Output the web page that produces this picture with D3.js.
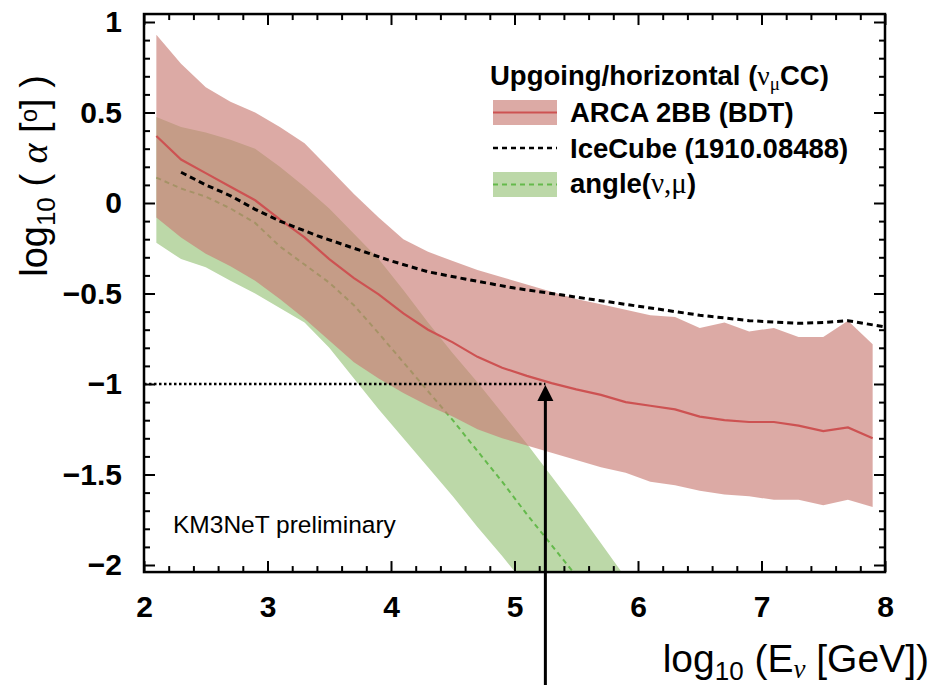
<!DOCTYPE html>
<html><head><meta charset="utf-8">
<script src="https://cdn.jsdelivr.net/npm/d3@7"></script>
<style>body{margin:0;background:#fff}svg{display:block}</style>
</head><body><svg id="c" width="931" height="685"></svg>
<script>
// ---- data (log10 E [GeV], log10 alpha [deg]) ----
const arcaE = [2.1,2.3,2.5,2.7,2.9,3.1,3.3,3.5,3.7,3.9,4.1,4.3,4.5,4.7,4.9,5.1,5.3,5.5,5.7,5.9,6.1,6.3,6.5,6.7,6.9,7.1,7.3,7.5,7.7,7.9];
const arcaUpper = [0.93,0.77,0.64,0.56,0.50,0.42,0.33,0.19,0.05,-0.08,-0.20,-0.27,-0.32,-0.37,-0.41,-0.45,-0.49,-0.53,-0.56,-0.59,-0.62,-0.63,-0.69,-0.66,-0.71,-0.69,-0.74,-0.74,-0.65,-0.78];
const arcaMedian = [0.37,0.24,0.165,0.09,0.015,-0.09,-0.19,-0.31,-0.415,-0.505,-0.61,-0.70,-0.77,-0.85,-0.91,-0.955,-0.995,-1.03,-1.06,-1.10,-1.12,-1.14,-1.18,-1.20,-1.21,-1.21,-1.23,-1.26,-1.24,-1.30];
const arcaLower = [-0.08,-0.19,-0.28,-0.35,-0.43,-0.53,-0.64,-0.76,-0.88,-0.97,-1.05,-1.12,-1.18,-1.25,-1.30,-1.34,-1.38,-1.42,-1.46,-1.49,-1.54,-1.56,-1.59,-1.61,-1.62,-1.64,-1.64,-1.67,-1.64,-1.68];

const angleUpperE = [2.1,2.3,2.5,2.7,2.9,3.1,3.3,3.5,3.7,3.9,4.1,4.3,4.5,4.7,4.9,5.1,5.3,5.5,5.7,5.9];
const angleUpper = [0.475,0.42,0.39,0.35,0.30,0.20,0.09,-0.03,-0.17,-0.31,-0.48,-0.66,-0.83,-0.99,-1.16,-1.33,-1.51,-1.69,-1.88,-2.07];
const angleLowerE = [2.1,2.3,2.5,2.7,2.9,3.1,3.3,3.5,3.7,3.9,4.1,4.3,4.5,4.7,4.9,5.1];
const angleLower = [-0.22,-0.31,-0.355,-0.43,-0.50,-0.58,-0.66,-0.80,-0.97,-1.14,-1.30,-1.46,-1.62,-1.79,-1.95,-2.12];
const angleMedianE = [2.1,2.3,2.5,2.7,2.9,3.1,3.3,3.5,3.7,3.9,4.1,4.3,4.5,4.7,4.9,5.1,5.3,5.5];
const angleMedian = [0.14,0.08,0.035,-0.03,-0.11,-0.24,-0.34,-0.44,-0.565,-0.72,-0.88,-1.04,-1.20,-1.37,-1.54,-1.72,-1.89,-2.06];

const iceE = [2.3,2.5,2.7,2.9,3.1,3.4,3.7,4.0,4.3,4.6,5.0,5.4,5.8,6.1,6.5,6.9,7.3,7.5,7.7,8.0];
const iceAlpha = [0.17,0.10,0.04,-0.035,-0.10,-0.18,-0.25,-0.32,-0.38,-0.42,-0.47,-0.51,-0.55,-0.58,-0.62,-0.65,-0.665,-0.66,-0.65,-0.685];

const markE = 5.25, markAlpha = -1;

const xTicks = [2,3,4,5,6,7,8];
const xTickLabels = ["2","3","4","5","6","7","8"];
const yTicks = [-2,-1.5,-1,-0.5,0,0.5,1];
const yTickLabels = ["\u22122","\u22121.5","\u22121","\u22120.5","0","0.5","1"];

const legendTitle = "Upgoing/horizontal";
const legendArca = "ARCA 2BB (BDT)";
const legendIce = "IceCube (1910.08488)";
const watermark = "KM3NeT preliminary";

// ---- layout ----
const svg = d3.select("#c");
const x = d3.scaleLinear([2, 8], [144, 885]);
const y = d3.scaleLinear([-2, 1], [565, 22]);
const pTop = y(1.044), pBot = y(-2.039), pLeft = x(2), pRight = x(8);

const defs = svg.append("defs");
defs.append("clipPath").attr("id","plot").append("rect")
  .attr("x", pLeft).attr("y", pTop).attr("width", pRight-pLeft).attr("height", pBot-pTop);

const redFill = "rgb(201,124,117)", redOp = 0.65;
const greenFill = "rgb(188,216,168)";
const greenLine = "rgb(100,185,75)";
const redLine = "rgb(205,82,82)";

const gPlot = svg.append("g").attr("clip-path","url(#plot)");

function bandPath(eU, vU, eL, vL) {
  const pts = eU.map((e,i)=>[x(e), y(vU[i])]);
  for (let i = eL.length-1; i >= 0; i--) pts.push([x(eL[i]), y(vL[i])]);
  return "M" + pts.map(p=>p.join(",")).join("L") + "Z";
}
const line = d3.line().x(d=>x(d[0])).y(d=>y(d[1]));

gPlot.append("path").attr("d", bandPath(angleUpperE, angleUpper, angleLowerE, angleLower))
  .attr("fill", greenFill);
gPlot.append("path").attr("d", line(angleMedianE.map((e,i)=>[e, angleMedian[i]])))
  .attr("fill","none").attr("stroke", greenLine).attr("stroke-width", 2).attr("stroke-dasharray","5,4");

gPlot.append("path").attr("d", bandPath(arcaE, arcaUpper, arcaE, arcaLower))
  .attr("fill", redFill).attr("fill-opacity", redOp);
gPlot.append("path").attr("d", line(arcaE.map((e,i)=>[e, arcaMedian[i]])))
  .attr("fill","none").attr("stroke", redLine).attr("stroke-width", 2.2);

gPlot.append("path").attr("d", line(iceE.map((e,i)=>[e, iceAlpha[i]])))
  .attr("fill","none").attr("stroke","#000").attr("stroke-width", 3).attr("stroke-dasharray","6,4");

svg.append("line").attr("x1", x(2)).attr("x2", x(markE)).attr("y1", y(markAlpha)).attr("y2", y(markAlpha))
  .attr("stroke","#000").attr("stroke-width",2.5).attr("stroke-dasharray","2.5,2.5");
const ax = x(markE), ay = y(markAlpha) + 1;
svg.append("line").attr("x1", ax).attr("x2", ax).attr("y1", 685).attr("y2", ay + 12)
  .attr("stroke","#000").attr("stroke-width",3);
svg.append("path").attr("d", `M${ax},${ay}L${ax-8},${ay+16}L${ax+8},${ay+16}Z`).attr("fill","#000");

const majLen = 11, minLen = 6;
const xMinor = x.ticks(30).filter(v=>!xTicks.includes(v));
const yMinor = y.ticks(30).filter(v=>!yTicks.some(t=>Math.abs(t-v)<1e-9));
function styleAxis(g){ g.select(".domain").remove(); g.selectAll("line").attr("stroke","#000").attr("stroke-width",2); }
const sans = "Liberation Sans, Arial, Helvetica, sans-serif";
const serif = "Liberation Serif, Times New Roman, serif";

svg.append("g").attr("transform",`translate(0,${pBot})`)
  .call(d3.axisBottom(x).tickValues(xTicks).tickSize(-majLen).tickPadding(24).tickFormat((d,i)=>xTickLabels[i]))
  .call(styleAxis)
  .call(g=>g.selectAll("text").attr("font-family",sans).attr("font-weight","bold").attr("font-size",30).attr("fill","#000"));
svg.append("g").attr("transform",`translate(0,${pBot})`)
  .call(d3.axisBottom(x).tickValues(xMinor).tickSize(-minLen).tickFormat("")).call(styleAxis);
svg.append("g").attr("transform",`translate(0,${pTop})`)
  .call(d3.axisTop(x).tickValues(xTicks).tickSize(-majLen).tickFormat("")).call(styleAxis);
svg.append("g").attr("transform",`translate(0,${pTop})`)
  .call(d3.axisTop(x).tickValues(xMinor).tickSize(-minLen).tickFormat("")).call(styleAxis);

svg.append("g").attr("transform",`translate(${pLeft},0)`)
  .call(d3.axisLeft(y).tickValues(yTicks).tickSize(-majLen).tickPadding(22).tickFormat((d,i)=>yTickLabels[i]))
  .call(styleAxis)
  .call(g=>g.selectAll("text").attr("font-family",sans).attr("font-weight","bold").attr("font-size",30).attr("fill","#000"));
svg.append("g").attr("transform",`translate(${pLeft},0)`)
  .call(d3.axisLeft(y).tickValues(yMinor).tickSize(-minLen).tickFormat("")).call(styleAxis);
svg.append("g").attr("transform",`translate(${pRight},0)`)
  .call(d3.axisRight(y).tickValues(yTicks).tickSize(-majLen).tickFormat("")).call(styleAxis);
svg.append("g").attr("transform",`translate(${pRight},0)`)
  .call(d3.axisRight(y).tickValues(yMinor).tickSize(-minLen).tickFormat("")).call(styleAxis);

svg.append("rect").attr("x",pLeft).attr("y",pTop).attr("width",pRight-pLeft).attr("height",pBot-pTop)
  .attr("fill","none").attr("stroke","#000").attr("stroke-width",2.5);

const yt = svg.append("text").attr("transform","translate(47,176) rotate(-90)")
  .attr("text-anchor","middle").attr("font-family",sans).attr("font-size",38).attr("fill","#000");
yt.append("tspan").text("log");
yt.append("tspan").attr("font-size",26).attr("dy",8).text("10");
yt.append("tspan").attr("dy",-8).text("\u00a0(\u00a0");
yt.append("tspan").attr("font-family",serif).attr("font-style","italic").text("\u03b1");
yt.append("tspan").text("\u00a0[");
yt.append("tspan").attr("font-size",24).attr("dy",-10).text("o");
yt.append("tspan").attr("dy",10).text("]\u00a0)");

const xt = svg.append("text").attr("x",929).attr("y",672).attr("text-anchor","end")
  .attr("font-family",sans).attr("font-size",39).attr("fill","#000");
xt.append("tspan").text("log");
xt.append("tspan").attr("font-size",26).attr("dy",8).text("10");
xt.append("tspan").attr("dy",-8).text("\u00a0(E");
xt.append("tspan").attr("font-size",27).attr("dy",6).attr("font-family",serif).attr("font-style","italic").text("\u03bd");
xt.append("tspan").attr("dy",-6).text("\u00a0[GeV])");

const lx = 493, lw = 64, lfs = 27.5;
const lt = svg.append("text").attr("x",490).attr("y",85).attr("font-family",sans).attr("font-weight","bold").attr("font-size",lfs).attr("fill","#000");
lt.append("tspan").text(legendTitle + " (");
lt.append("tspan").attr("font-family",serif).attr("font-weight","normal").text("\u03bd");
lt.append("tspan").attr("font-family",serif).attr("font-weight","normal").attr("font-size",19).attr("dy",5).text("\u03bc");
lt.append("tspan").attr("dy",-5).text("CC)");

svg.append("rect").attr("x",lx).attr("y",100).attr("width",lw).attr("height",25).attr("fill",redFill).attr("fill-opacity",redOp);
svg.append("line").attr("x1",lx).attr("x2",lx+lw).attr("y1",112.5).attr("y2",112.5).attr("stroke",redLine).attr("stroke-width",2.2);
svg.append("text").attr("x",570).attr("y",122).attr("font-family",sans).attr("font-weight","bold").attr("font-size",lfs).attr("fill","#000").text(legendArca);

svg.append("line").attr("x1",lx).attr("x2",lx+lw).attr("y1",148).attr("y2",148).attr("stroke","#000").attr("stroke-width",2.5).attr("stroke-dasharray","5,4");
svg.append("text").attr("x",570).attr("y",158).attr("font-family",sans).attr("font-weight","bold").attr("font-size",lfs).attr("fill","#000").text(legendIce);

svg.append("rect").attr("x",lx).attr("y",172).attr("width",lw).attr("height",25).attr("fill",greenFill);
svg.append("line").attr("x1",lx).attr("x2",lx+lw).attr("y1",184.5).attr("y2",184.5).attr("stroke",greenLine).attr("stroke-width",2.2).attr("stroke-dasharray","5,4");
const la = svg.append("text").attr("x",570).attr("y",193).attr("font-family",sans).attr("font-weight","bold").attr("font-size",lfs).attr("fill","#000");
la.append("tspan").text("angle(");
la.append("tspan").attr("font-family",serif).attr("font-weight","normal").attr("font-size",29).text("\u03bd,\u03bc");
la.append("tspan").text(")");

svg.append("text").attr("x",173).attr("y",533).attr("font-family",sans).attr("font-size",24.5).attr("fill","#000").text(watermark);
</script>
</body></html>
